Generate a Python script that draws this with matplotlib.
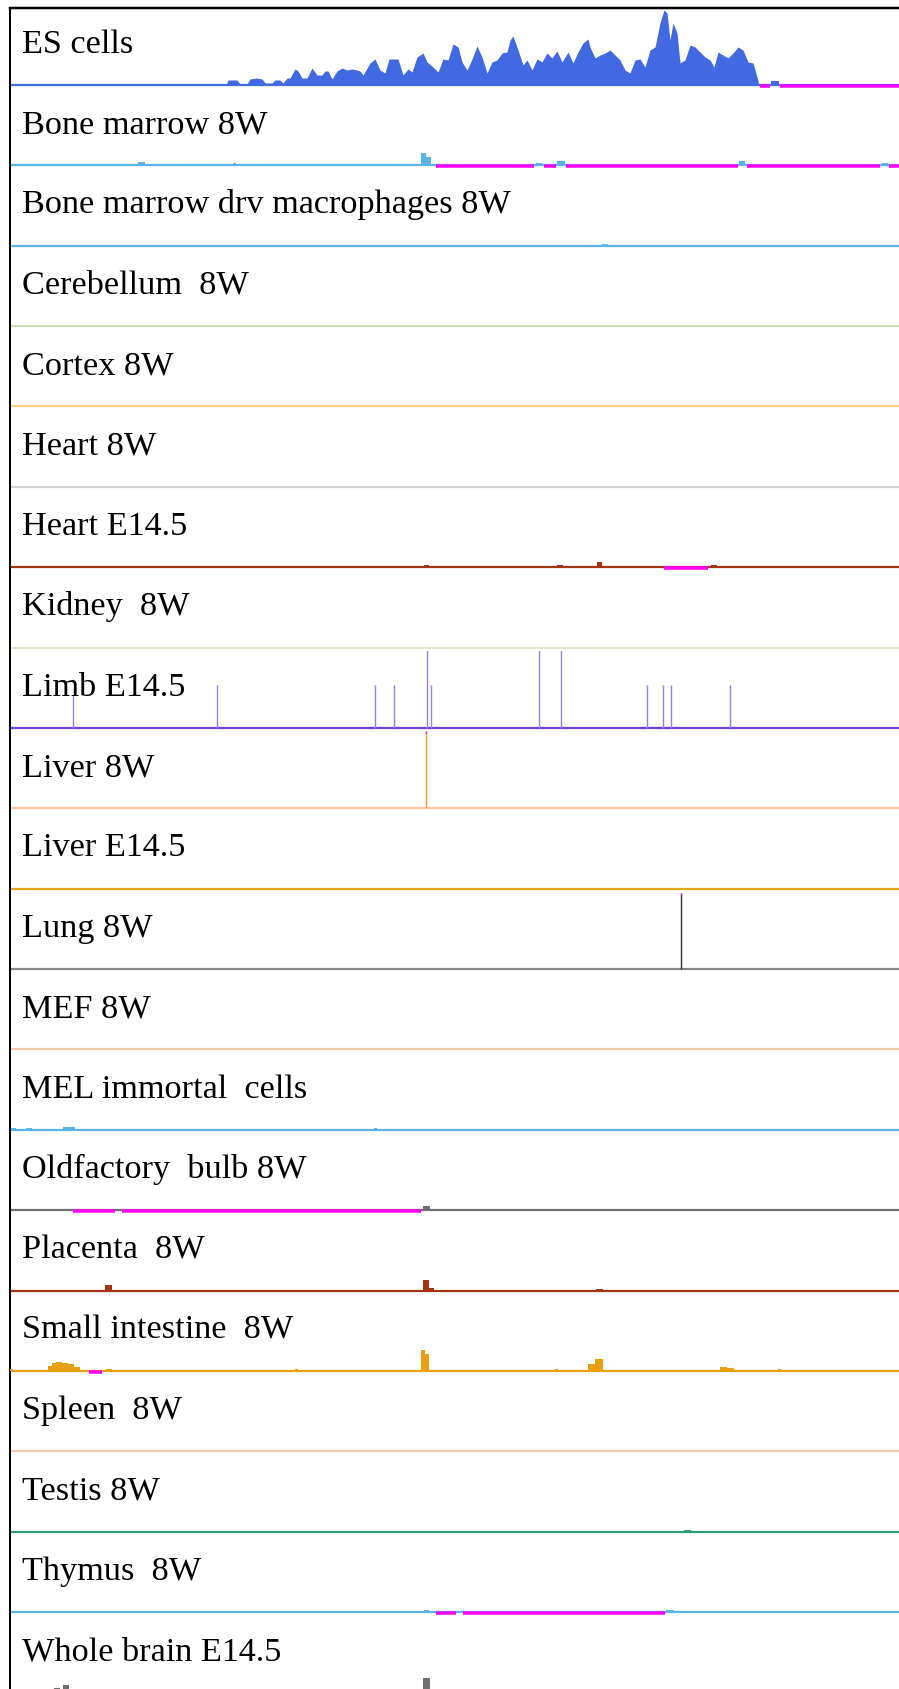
# %%
# Genome browser style stacked tracks
import matplotlib.pyplot as plt

plt.rcParams['font.family'] = ['Liberation Serif', 'DejaVu Serif']

# %%
# Track names and colours (top to bottom)
labels = ['ES cells', 'Bone marrow 8W', 'Bone marrow drv macrophages 8W',
          'Cerebellum  8W', 'Cortex 8W', 'Heart 8W', 'Heart E14.5',
          'Kidney  8W', 'Limb E14.5', 'Liver 8W', 'Liver E14.5', 'Lung 8W',
          'MEF 8W', 'MEL immortal  cells', 'Oldfactory  bulb 8W',
          'Placenta  8W', 'Small intestine  8W', 'Spleen  8W', 'Testis 8W',
          'Thymus  8W', 'Whole brain E14.5']
colors = ['#4169E1', '#56B4E9', '#56B4E9', '#C9DFB4', '#F5D27A', '#D0D0D0',
          '#A33414', '#E2E6CC', '#6B3FD6', '#F8C8A8', '#E8A21C', '#888888',
          '#F8C8A8', '#56B4E9', '#6E6E6E', '#A33414', '#E6A010', '#F8C8A8',
          '#2A9D78', '#56B4E9', '#707070']

# %%
# ES cells coverage profile (position along window, signal)
es_pos = [10, 190, 212, 213, 215, 218, 220, 226, 228, 237, 240, 247, 250, 256,
          262, 265, 272, 275, 280, 283, 287, 290, 295, 298, 302, 307, 312, 317,
          322, 325, 328, 332, 337, 342, 347, 352, 357, 360, 363, 370, 375, 380,
          385, 389, 394, 398, 403, 408, 412, 417, 423, 427, 433, 438, 443, 448,
          453, 458, 462, 467, 472, 477, 482, 487, 492, 497, 502, 507, 510, 513,
          518, 523, 527, 532, 537, 542, 547, 552, 557, 562, 568, 573, 578, 583,
          588, 590, 595, 600, 605, 610, 615, 620, 625, 630, 635, 640, 645, 650,
          655, 660, 664, 667, 670, 673, 677, 680, 685, 690, 695, 700, 705, 710,
          714, 718, 723, 728, 733, 738, 743, 748, 753, 757, 759]
es_val = [0, 0, 0, 1.7, 0, 1.7, 0, 0, 5, 5, 1, 1, 6, 7,
          6, 2, 2, 5, 5, 2, 7, 7, 16, 14, 7, 7, 17, 10,
          10, 14, 14, 6, 14, 17, 15, 16, 15, 14, 10, 22, 26, 15,
          12, 26, 26, 26, 10, 16, 13, 28, 32, 23, 18, 13, 26, 25,
          41, 38, 23, 15, 26, 39, 28, 12, 23, 25, 32, 33, 45, 49,
          35, 20, 25, 15, 26, 23, 32, 27, 34, 23, 33, 22, 33, 42,
          46, 38, 27, 30, 32, 35, 30, 25, 15, 12, 25, 26, 18, 35,
          38, 62, 75, 72, 45, 62, 52, 22, 25, 40, 38, 33, 28, 25,
          18, 33, 30, 27, 32, 38, 35, 23, 22, 8, 0]

# %%
# Small peaks per track: (start, end, signal)
es_peaks = [(771, 779, 4)]
bm_peaks = [(138, 145, 3.3), (233, 236, 2), (421, 426, 12), (426, 431, 8),
            (536, 542, 2), (557, 565, 4), (739, 745, 4), (882, 888, 2)]
bmdrv_peaks = [(602, 608, 2), (720, 725, 1), (884, 887, 1)]
hearte_peaks = [(424, 429, 2), (537, 540, 1.5), (557, 563, 2), (597, 602, 5),
                (711, 717, 2)]
livere_peaks = [(213, 215, 1.2), (428, 430, 1.2)]
mel_peaks = [(11, 16, 2), (26, 32, 2), (63, 75, 3), (374, 377, 1.5),
             (724, 727, 1)]
olf_peaks = [(66, 70, 1.2), (116, 119, 1.2), (423, 430, 4)]
plac_peaks = [(105, 112, 6), (423, 429, 11), (429, 434, 3), (596, 603, 2)]
si_peaks = [(10, 13, 2), (48, 52, 5), (52, 56, 8), (56, 62, 9), (62, 68, 8),
            (68, 74, 7), (74, 80, 4), (106, 112, 2), (295, 298, 1.5),
            (421, 425, 21), (425, 429, 17), (555, 558, 2), (588, 595, 7),
            (595, 603, 12), (720, 727, 4), (727, 734, 3), (778, 781, 1.5)]
testis_peaks = [(684, 691, 1.5)]
thymus_peaks = [(424, 429, 2), (666, 674, 2)]
wb_peaks = [(54, 60, 4), (63, 69, 7), (423, 430, 14), (730, 733, 2)]

# Narrow spikes: (position, signal)
limb_spikes = [(73, 33), (217, 43), (375, 43), (394, 43), (427, 78), (431, 43),
               (539, 78), (561, 78), (647, 43), (663, 43), (671, 43), (730, 43)]
liver_spikes = [(426, 77)]
lung_spikes = [(681, 76)]

# Regions with no coverage (magenta)
es_gaps = [(760, 770), (780, 899)]
bm_gaps = [(436, 534), (544, 556), (566, 738), (747, 880), (889, 899)]
hearte_gaps = [(664, 708)]
olf_gaps = [(73, 115), (122, 421)]
si_gaps = [(89, 102)]
thymus_gaps = [(436, 456), (463, 665)]

peaks = {0: es_peaks, 1: bm_peaks, 2: bmdrv_peaks, 6: hearte_peaks,
         10: livere_peaks, 13: mel_peaks, 14: olf_peaks, 15: plac_peaks,
         16: si_peaks, 18: testis_peaks, 19: thymus_peaks, 20: wb_peaks}
spikes = {8: limb_spikes, 9: liver_spikes, 11: lung_spikes}
spike_colors = {8: '#9A7FE6', 9: '#F0A020', 11: '#333333'}
gaps = {0: es_gaps, 1: bm_gaps, 6: hearte_gaps, 14: olf_gaps, 16: si_gaps,
        19: thymus_gaps}

# %%
# Layout in pixels
W, H = 899, 1689
first_base = 85.0
step = 80.37
px = 0.72  # points per pixel at 100 dpi

fig = plt.figure(figsize=(W / 100, H / 100), dpi=100)

for i, name in enumerate(labels):
    base = first_base + step * i
    ax = fig.add_axes([10 / W, 1 - (base + 3) / H, 889 / W, step / H])
    ax.set_xlim(10, 899)
    ax.set_ylim(-3, step - 3)
    ax.set_xticks([])
    ax.set_yticks([])
    for s in ['top', 'right', 'bottom']:
        ax.spines[s].set_visible(False)
    ax.spines['left'].set_color('black')
    ax.spines['left'].set_linewidth(2 * px)
    if i == 0:
        ax.spines['top'].set_visible(True)
        ax.spines['top'].set_linewidth(2.5 * px)
    c = colors[i]

    ax.axhline(0, color=c, lw=2.2 * px, zorder=2)

    if i == 0:
        ax.fill_between(es_pos, 0, es_val, color=c, linewidth=0, zorder=3)
    for (a, b, h) in peaks.get(i, []):
        ax.bar(a, h, width=b - a, align='edge', color=c, linewidth=0, zorder=3)
    for (x, h) in spikes.get(i, []):
        ax.vlines(x, 0, h, color=spike_colors[i], lw=1.4 * px, zorder=3)
        if i in (9, 11):
            ax.vlines(x, h - 2, h, color='#FF00FF', lw=1.4 * px, zorder=4)
    for (a, b) in gaps.get(i, []):
        ax.hlines(-1.0, a, b, color='#FF00FF', lw=3.5 * px, zorder=4)

    ax.text(21.5, 32.3, name, fontsize=24.7, color='black',
            ha='left', va='baseline', zorder=5)

plt.savefig('out.png', dpi=100)
